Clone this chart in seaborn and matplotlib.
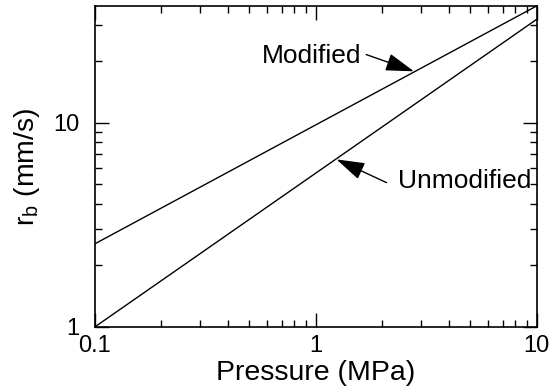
import matplotlib
matplotlib.use("Agg")
import matplotlib.pyplot as plt
import matplotlib.ticker as mticker
import seaborn as sns
import pandas as pd

# dados (escala log-log, retas)
pressao = [0.1, 10]
rb_modificado = [2.55, 37.2]
rb_nao_modificado = [1.0, 32.0]

sns.set_style("ticks")
plt.rcParams['font.family'] = ['Liberation Sans', 'DejaVu Sans']
plt.rcParams['mathtext.default'] = 'regular'
plt.rcParams['text.color'] = 'black'
plt.rcParams['axes.labelcolor'] = 'black'
plt.rcParams['xtick.color'] = 'black'
plt.rcParams['ytick.color'] = 'black'

df = pd.DataFrame({
    "Pressao": pressao + pressao,
    "rb": rb_modificado + rb_nao_modificado,
    "Serie": ["Modified"] * 2 + ["Unmodified"] * 2,
})

fig = plt.figure(figsize=(5.58, 3.92), dpi=100)
ax = fig.add_axes([0.170, 0.166, 0.792, 0.819])

sns.lineplot(data=df, x="Pressao", y="rb", units="Serie", estimator=None,
             color="black", linewidth=1.0, ax=ax, legend=False)

ax.set_xscale("log")
ax.set_yscale("log")
ax.set_xlim(0.1, 10)
ax.set_ylim(1, 37.2)

ax.xaxis.set_major_locator(mticker.FixedLocator([0.1, 1, 10]))
ax.xaxis.set_major_formatter(mticker.FixedFormatter(["0.1", "1", "10"]))
ax.yaxis.set_major_locator(mticker.FixedLocator([1, 10]))
ax.yaxis.set_major_formatter(mticker.FixedFormatter(["1", "10"]))
ax.xaxis.set_minor_formatter(mticker.NullFormatter())
ax.yaxis.set_minor_formatter(mticker.NullFormatter())

ax.tick_params(which="both", direction="in", top=True, right=True,
               color="black", width=1.0)
ax.tick_params(which="major", length=10, labelsize=17)
ax.tick_params(axis="x", which="major", pad=6)
ax.tick_params(axis="y", which="major", pad=11)
ax.tick_params(which="minor", length=5)
for s in ax.spines.values():
    s.set_color("black")
    s.set_linewidth(1.2)

ax.set_xlabel("Pressure (MPa)", fontsize=20.5, labelpad=2)
ax.set_ylabel("r$_b$ (mm/s)", fontsize=20.5, labelpad=8)

# anotacoes
ax.text(1.6, 21.1, "Modified", fontsize=19, ha="right", va="center")
ax.annotate("", xy=(2.78, 17.8), xytext=(1.69, 21.5),
            arrowprops=dict(arrowstyle="-|>,head_length=0.8,head_width=0.25",
                            color="black", lw=1.0,
                            mutation_scale=22, shrinkA=0, shrinkB=0))
ax.text(2.35, 5.2, "Unmodified", fontsize=19, ha="left", va="center")
ax.annotate("", xy=(1.24, 6.6), xytext=(2.09, 5.08),
            arrowprops=dict(arrowstyle="-|>,head_length=0.8,head_width=0.25",
                            color="black", lw=1.0,
                            mutation_scale=22, shrinkA=0, shrinkB=0))

fig.savefig("out.png", dpi=100)
